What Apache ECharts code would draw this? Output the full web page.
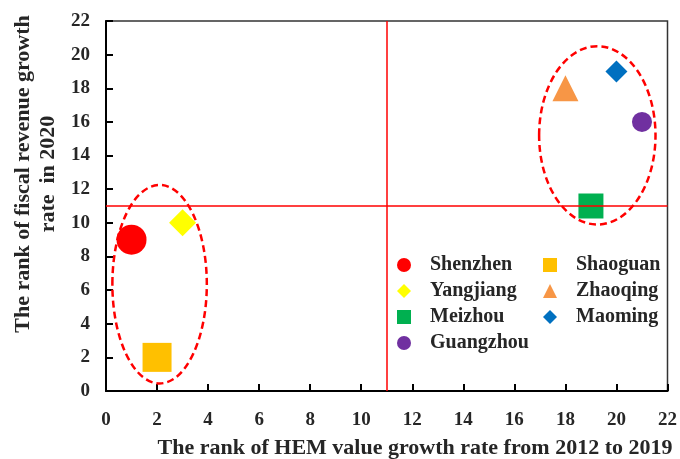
<!DOCTYPE html>
<html lang="en">
<head>
  <meta charset="utf-8">
  <title>Rank scatter</title>
  <script type="text/javascript" src="https://cdn.jsdelivr.net/npm/echarts@6/dist/echarts.min.js"></script>
  <style type="text/css">
    * { margin: 0; padding: 0; }
    html, body, #chart { width: 680px; height: 459px; overflow: hidden; background: #fff; }
  </style>
</head>
<body>
  <div id="chart"></div>
  <script type="text/javascript">
    // cities: name, [x rank, y rank], symbol, size, colour
    var cityNames = ['Shenzhen', 'Shaoguan', 'Yangjiang', 'Zhaoqing', 'Meizhou', 'Maoming', 'Guangzhou'];
    var cityPoints = [[1, 9], [2, 2], [3, 10], [18, 18], [19, 11], [20, 19], [21, 16]];
    var citySymbols = ['circle', 'rect', 'diamond', 'triangle', 'rect', 'diamond', 'circle'];
    var citySizes = [30, 29, 27, 26, 25, 22, 20];
    var cityColors = ['#ff0000', '#ffc000', '#ffff00', '#f79646', '#00b050', '#0070c0', '#7030a0'];

    // two dashed group ellipses: [cx, cy, rx, ry] in data units
    var groupEllipses = [[2.1, 6.35, 1.85, 5.9], [19.25, 15.2, 2.28, 5.3]];
    // threshold lines
    var thresholdX = 11;
    var thresholdY = 11;

    var serif = '"Liberation Serif", "DejaVu Serif", serif';

    var series = cityNames.map(function (name, i) {
      return {
        type: 'scatter',
        name: name,
        data: [cityPoints[i]],
        symbol: citySymbols[i],
        symbolSize: citySizes[i],
        itemStyle: { color: cityColors[i], opacity: 1 },
        z: 3
      };
    });

    series.push({
      type: 'custom',
      name: 'groups',
      data: groupEllipses,
      encode: { x: 0, y: 1 },
      silent: true,
      z: 4,
      renderItem: function (params, api) {
        var c = api.coord([api.value(0), api.value(1)]);
        var s = api.size([api.value(2), api.value(3)]);
        return {
          type: 'ellipse',
          shape: { cx: c[0], cy: c[1], rx: s[0], ry: s[1] },
          style: { fill: 'none', stroke: '#ff0000', lineWidth: 2.5, lineDash: [7, 4] }
        };
      },
      markLine: {
        silent: true,
        symbol: 'none',
        animation: false,
        label: { show: false },
        lineStyle: { color: '#ff0000', width: 1.5, type: 'solid' },
        data: [{ xAxis: thresholdX }, { yAxis: thresholdY }]
      }
    });

    var legendText = {
      fontFamily: serif, fontWeight: 'bold', fontSize: 20, color: '#262626',
      padding: [0, 0, 0, 14]
    };

    var option = {
      animation: false,
      grid: {
        left: 106, right: 12, top: 21, bottom: 68,
        show: true, borderColor: '#333', borderWidth: 1.5, backgroundColor: 'transparent'
      },
      xAxis: {
        type: 'value', min: 0, max: 22, interval: 2,
        splitLine: { show: false },
        axisLine: { lineStyle: { color: '#000', width: 2 } },
        axisTick: { inside: true, length: 7, lineStyle: { color: '#000', width: 2 } },
        axisLabel: { margin: 20, fontFamily: serif, fontWeight: 'bold', fontSize: 19, color: '#262626' }
      },
      yAxis: {
        type: 'value', min: 0, max: 22, interval: 2,
        splitLine: { show: false },
        axisLine: { lineStyle: { color: '#000', width: 2 } },
        axisTick: { inside: true, length: 7, lineStyle: { color: '#000', width: 2 } },
        axisLabel: { margin: 16, fontFamily: serif, fontWeight: 'bold', fontSize: 19, color: '#262626' }
      },
      legend: [
        {
          orient: 'vertical', left: 392, top: 250, itemWidth: 14, itemHeight: 14, itemGap: 6,
          data: ['Shenzhen', 'Yangjiang', 'Meizhou', 'Guangzhou'],
          textStyle: legendText
        },
        {
          orient: 'vertical', left: 538, top: 250, itemWidth: 14, itemHeight: 14, itemGap: 6,
          data: ['Shaoguan', 'Zhaoqing', 'Maoming'],
          textStyle: legendText
        }
      ],
      graphic: [
        {
          type: 'text', x: 415, y: 448,
          style: {
            text: 'The rank of HEM value growth rate from 2012 to 2019',
            font: 'bold 22px ' + serif, fill: '#262626',
            align: 'center', verticalAlign: 'middle'
          }
        },
        {
          type: 'text', x: 36, y: 174, rotation: Math.PI / 2,
          style: {
            text: 'The rank of fiscal revenue growth\nrate  in 2020',
            font: 'bold 22px ' + serif, fill: '#262626',
            align: 'center', verticalAlign: 'middle', lineHeight: 25
          }
        }
      ],
      series: series
    };

    var chart = echarts.init(document.getElementById('chart'));
    chart.setOption(option);
  </script>
</body>
</html>
